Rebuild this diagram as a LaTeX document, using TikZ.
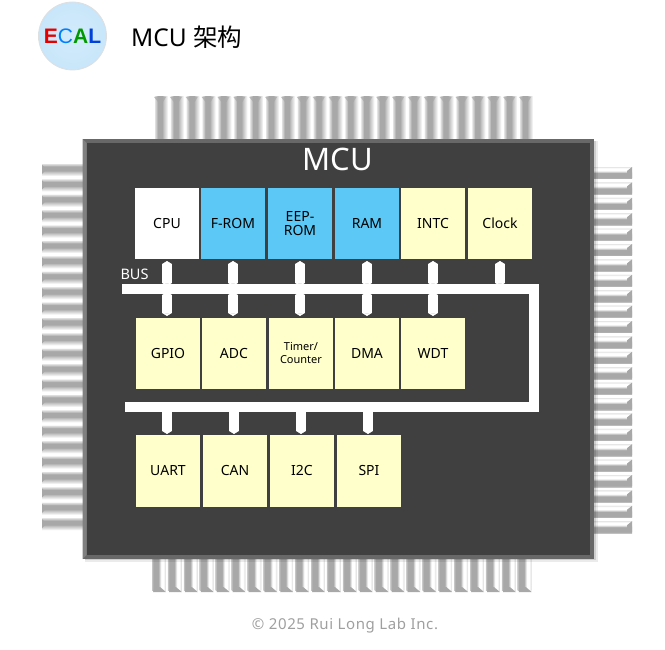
\documentclass[tikz,border=0pt]{standalone}
\usepackage{fontspec}
\usepackage{xcolor}
\setmainfont{Noto Sans}
\newfontfamily\cjkfont{Noto Sans CJK SC}
\newfontfamily\logofont{Liberation Sans}
\usetikzlibrary{arrows.meta, positioning, calc}
\definecolor{chip-dark}{HTML}{404040}
\definecolor{chip-edge}{HTML}{686868}
\definecolor{block-yellow}{HTML}{FFFFCC}
\definecolor{block-blue}{HTML}{5BC8F5}
\definecolor{pin-dark}{HTML}{A8A8A8}
\definecolor{pin-mid}{HTML}{C4C4C4}
\definecolor{pin-light}{HTML}{E2E2E2}
\definecolor{logo-blue}{HTML}{C8E6FA}
\pgfdeclareverticalshading{pinband}{100bp}{color(0bp)=(white); color(25bp)=(white); color(28bp)=(pin-light); color(34bp)=(pin-mid); color(38bp)=(pin-dark); color(54bp)=(pin-dark); color(60bp)=(pin-mid); color(68bp)=(pin-light); color(75bp)=(white); color(100bp)=(white)}
\pgfdeclareverticalshading{pinbright}{100bp}{color(0bp)=(white); color(25bp)=(pin-mid); color(30bp)=(pin-dark); color(48bp)=(pin-dark); color(54bp)=(pin-light); color(58bp)=(white); color(66bp)=(white); color(72bp)=(pin-light); color(75bp)=(white); color(100bp)=(white)}

\begin{document}
\begin{tikzpicture}[
    x=1pt, y=-1pt,
    block/.style={rectangle, minimum width=64pt, minimum height=71pt, inner sep=0pt, outer sep=0pt, text=black, font=\fontsize{14}{16}\selectfont, align=center},
    memory/.style={block, fill=block-blue},
    periph/.style={block, fill=block-yellow},
    bus/.style={draw=white, line width=10pt},
    link/.style={draw=white, line width=9.5pt, {Triangle[length=3pt,width=9.5pt]}-{Triangle[length=3pt,width=9.5pt]}},
    drop/.style={draw=white, line width=9.5pt, -{Triangle[length=3pt,width=9.5pt]}}
]
\useasboundingbox (0,0) rectangle (665,650);

% Logo and title
\node[circle, draw=gray!25, line width=0.8pt, inner color=logo-blue!80, outer color=logo-blue, minimum size=68pt, inner sep=0pt] (logo) at (72.5,36) {};
\node[inner sep=0pt, font=\fontsize{21}{24}\selectfont\logofont] (logotext) at (logo.center) {\textcolor{red!90!black}{\textbf{E}}\textcolor{blue!50!cyan}{C}\textcolor{green!60!black}{\textbf{A}}\textcolor{blue!70!cyan!85!black}{\textbf{L}}};
\node[anchor=west, inner sep=0pt, font=\fontsize{24.5}{28}\selectfont] (title) at (131,37) {MCU {\cjkfont 架构}};

% Pins
\foreach \i in {0,...,23} {
    \pgfmathsetmacro{\px}{154+15.87*\i}
    \shade[shading=pinband, shading angle=-90] (\px,97) rectangle (\px+14,139);
    \fill[pin-dark, opacity=0.7] (\px,97) -- (\px+12,97) -- (\px+9,102) -- (\px+4,102) -- cycle;
    \pgfmathsetmacro{\qx}{152+15.9*\i}
    \shade[shading=pinbright, shading angle=-90] (\qx,558) rectangle (\qx+14,590);
    \fill[pin-dark] (\qx+1,592) -- (\qx+14,592) -- (\qx+8,587) -- (\qx+3,587) -- cycle;
    \pgfmathsetmacro{\ly}{163+15.4*\i}
    \shade[shading=pinband, shading angle=180] (42,\ly) rectangle (83,\ly+13);
    \fill[pin-dark] (42,\ly+2) -- (45,\ly+5) -- (45,\ly+8) -- (42,\ly+11) -- cycle;
    \pgfmathsetmacro{\ry}{166+15.4*\i}
    \shade[shading=pinbright, shading angle=0] (593,\ry) rectangle (632,\ry+13);
    \fill[pin-dark] (632,\ry+1) -- (632,\ry+12) -- (627,\ry+9) -- (627,\ry+5) -- cycle;
}

% Chip body
\fill[black, opacity=0.08] (85,141) rectangle (598,562);
\fill[black, opacity=0.12] (85,141) rectangle (596,560);
\node[rectangle, fill=chip-edge, minimum width=511pt, minimum height=420pt, inner sep=0pt, outer sep=0pt] (frame) at (338,349) {};
\fill[black!50] (frame.north west) -- ([xshift=4pt,yshift=-4pt]frame.north west) -- ([xshift=4pt,yshift=4pt]frame.south west) -- (frame.south west) -- cycle;
\node[rectangle, fill=chip-dark, minimum width=503pt, minimum height=412pt, inner sep=0pt, outer sep=0pt] (chip) at (338,349) {};
\node[text=white, inner sep=0pt, font=\fontsize{31}{34}\selectfont] (chiplabel) at (338,159) {MCU};

% First row
\node[block, fill=white] (cpu) at (167,223.5) {CPU};
\node[memory, right=2pt of cpu] (from) {F-ROM};
\node[memory, right=3pt of from] (eeprom) {EEP-\\[-2pt]ROM};
\node[memory, right=3pt of eeprom] (ram) {RAM};
\node[periph, right=2pt of ram] (intc) {INTC};
\node[periph, right=3pt of intc] (clock) {Clock};

% Second row
\node[periph] (gpio) at (168,353.5) {GPIO};
\node[periph, right=2pt of gpio] (adc) {ADC};
\node[periph, right=3pt of adc, font=\fontsize{11}{13}\selectfont] (timer) {Timer/\\Counter};
\node[periph, right=2pt of timer] (dma) {DMA};
\node[periph, right=2pt of dma] (wdt) {WDT};

% Third row
\node[periph, minimum height=72pt] (uart) at (168,471) {UART};
\node[periph, minimum height=72pt, right=3pt of uart] (can) {CAN};
\node[periph, minimum height=72pt, right=3pt of can] (i2c) {I2C};
\node[periph, minimum height=72pt, right=3pt of i2c] (spi) {SPI};

% Bus
\coordinate (bus-start) at (122,289);
\coordinate (bus-corner) at (534,289);
\coordinate (bus-turn) at (534,407);
\coordinate (bus-end) at (125,407);
\coordinate (bus-top) at (122,286);
\coordinate (bus-bottom) at (122,292);
\coordinate (bus-low) at (125,410);
\draw[bus] (bus-start) -- (bus-corner) -- (bus-turn) -- (bus-end);
\node[text=white, inner sep=0pt, font=\fontsize{14.5}{16}\selectfont] (buslabel) at (134.5,274) {BUS};

% Bus connections
\foreach \a/\b in {cpu/gpio, from/adc, eeprom/timer, ram/dma, intc/wdt} {
    \draw[link, shorten <=2pt] (\a.south) -- (\a.south |- bus-top);
    \draw[link, shorten >=2pt] (\a.south |- bus-bottom) -- (\a.south |- \b.north);
}
\draw[link, shorten <=2pt] (clock.south) -- (clock.south |- bus-top);
\foreach \c in {uart, can, i2c, spi} {
    \draw[drop, shorten >=1pt] ([xshift=-1pt]\c.north |- bus-low) -- ([xshift=-1pt]\c.north);
}

% Footer
\node[text=gray!75, inner sep=0pt, font=\fontsize{15}{18}\selectfont] (footer) at (345,625.5) {\addfontfeature{LetterSpace=4}© 2025 Rui Long Lab Inc.};

\end{tikzpicture}
\end{document}
